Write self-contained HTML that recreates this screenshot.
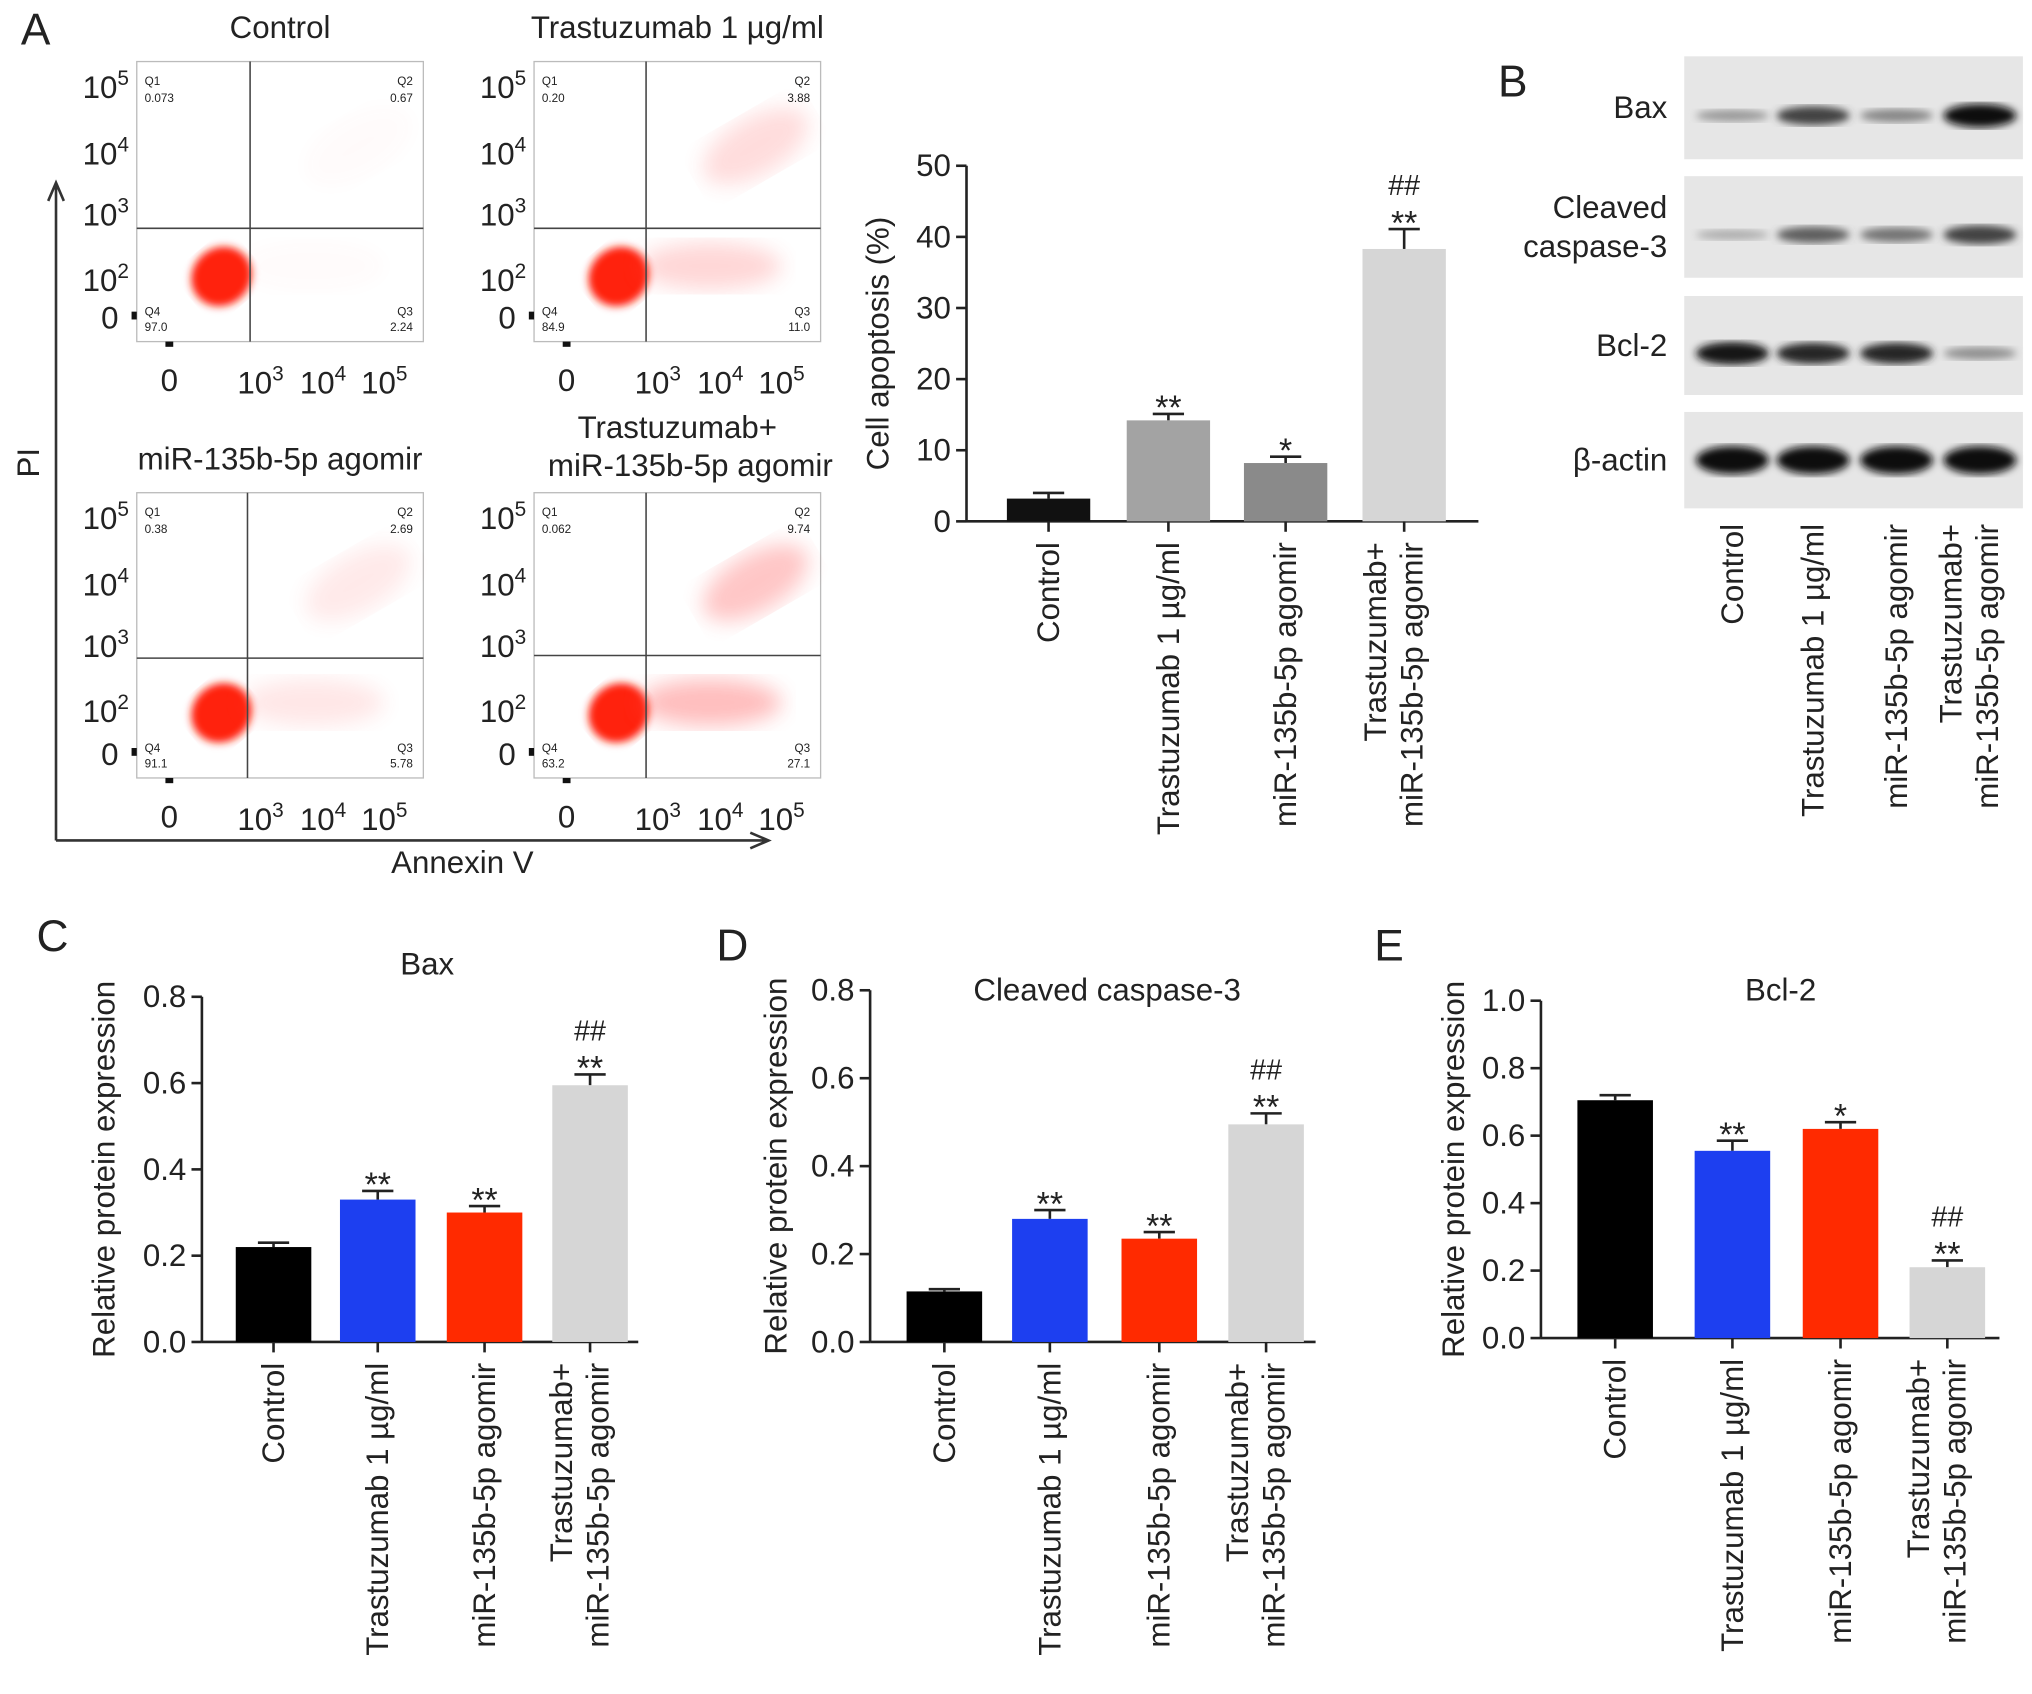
<!DOCTYPE html>
<html><head><meta charset="utf-8"><style>
html,body{margin:0;padding:0;background:#fff}
svg{display:block}
text{font-family:"Liberation Sans",sans-serif;fill:#222}
</style></head><body>
<svg id="fig" xmlns="http://www.w3.org/2000/svg" width="2032" height="1694" viewBox="0 0 1560 1300">
<defs>
<filter id="blur2"><feGaussianBlur stdDeviation="3"/></filter>
<filter id="blur6"><feGaussianBlur stdDeviation="8"/></filter>
</defs>
<text x="16" y="34" font-size="34">A</text>
<text x="1150" y="74" font-size="34">B</text>
<text x="28" y="730" font-size="34">C</text>
<text x="550" y="737" font-size="34">D</text>
<text x="1055" y="737" font-size="34">E</text>
<g id="flow"></g>
<g id="apop"></g>
<g id="blot"></g>
<g id="cbar"></g>
<g id="dbar"></g>
<g id="ebar"></g>
</svg>
<script>
const groups = ["Control","Trastuzumab 1 µg/ml","miR-135b-5p agomir","Trastuzumab+|miR-135b-5p agomir"];
const apopValues = [3.2, 14.2, 8.2, 38.3];
const apopErrors = [0.8, 0.9, 0.9, 2.8];
const apopSig = ["", "**", "*", "##|**"];
const apopTicks = [0,10,20,30,40,50];
const baxValues = [0.22, 0.33, 0.30, 0.595];
const baxErrors = [0.01, 0.02, 0.015, 0.025];
const baxSig = ["", "**", "**", "##|**"];
const casValues = [0.115, 0.28, 0.235, 0.495];
const casErrors = [0.005, 0.02, 0.015, 0.025];
const casSig = ["", "**", "**", "##|**"];
const bclValues = [0.705, 0.555, 0.62, 0.21];
const bclErrors = [0.015, 0.03, 0.02, 0.02];
const bclSig = ["", "**", "*", "##|**"];
const protTicks08 = [0,0.2,0.4,0.6,0.8];
const protTicks10 = [0,0.2,0.4,0.6,0.8,1.0];
const flowTitles = ["Control","Trastuzumab 1 µg/ml","miR-135b-5p agomir","Trastuzumab+|miR-135b-5p agomir"];
const q1Vals = ["0.073","0.20","0.38","0.062"];
const q2Vals = ["0.67","3.88","2.69","9.74"];
const q3Vals = ["2.24","11.0","5.78","27.1"];
const q4Vals = ["97.0","84.9","91.1","63.2"];
const tailStrength = [0.03, 0.3, 0.18, 0.5];
const blotNames = ["Bax","Cleaved|caspase-3","Bcl-2","β-actin"];
const baxBands = [0.25, 0.7, 0.35, 1.0];
const casBands = [0.15, 0.55, 0.45, 0.7];
const bclBands = [0.95, 0.85, 0.85, 0.3];
const actBands = [1.0, 1.0, 1.0, 1.0];

const NS="http://www.w3.org/2000/svg";
function el(parent, tag, attrs, txt){const e=document.createElementNS(NS,tag);for(const k in attrs)e.setAttribute(k,attrs[k]);if(txt!==undefined)e.textContent=txt;parent.appendChild(e);return e;}

const flow=document.getElementById('flow');
const boxes=[[105,47,325,262,192,175],[410,47,630,262,496,175],[105,378,325,597,190,505],[410,378,630,597,496,503]];
boxes.forEach((b,i)=>{
  const [x0,y0,x1,y1,vx,hy]=b;
  const g=el(flow,'g',{});
  
  
  el(g,'rect',{x:x0,y:y0,width:x1-x0,height:y1-y0,fill:'#fff',stroke:'#bbb','stroke-width':1});
  const cx=x0+65, cy=y1-50;
  el(g,'ellipse',{cx:cx,cy:cy,rx:24,ry:22,fill:'#f21',filter:'url(#blur2)',transform:`rotate(-40 ${cx} ${cy})`});
  const t=tailStrength[i];
  el(g,'ellipse',{cx:cx+70,cy:cy-8,rx:55,ry:18,fill:'#f44',opacity:t*0.7,filter:'url(#blur6)'});
  el(g,'ellipse',{cx:cx+105,cy:cy-100,rx:45,ry:22,fill:'#f44',opacity:t*0.6,filter:'url(#blur6)',transform:`rotate(-30 ${cx+105} ${cy-100})`});
  el(g,'line',{x1:vx,y1:y0,x2:vx,y2:y1,stroke:'#444','stroke-width':1.2});
  el(g,'line',{x1:x0,y1:hy,x2:x1,y2:hy,stroke:'#444','stroke-width':1.2});
  el(g,'text',{x:x0+6,y:y0+18,'font-size':9},'Q1');
  el(g,'text',{x:x0+6,y:y0+31,'font-size':9},q1Vals[i]);
  el(g,'text',{x:x1-8,y:y0+18,'font-size':9,'text-anchor':'end'},'Q2');
  el(g,'text',{x:x1-8,y:y0+31,'font-size':9,'text-anchor':'end'},q2Vals[i]);
  el(g,'text',{x:x0+6,y:y1-20,'font-size':9},'Q4');
  el(g,'text',{x:x0+6,y:y1-8,'font-size':9},q4Vals[i]);
  el(g,'text',{x:x1-8,y:y1-20,'font-size':9,'text-anchor':'end'},'Q3');
  el(g,'text',{x:x1-8,y:y1-8,'font-size':9,'text-anchor':'end'},q3Vals[i]);
  const h=y1-y0;
  [[20,'5'],[71,'4'],[118,'3'],[168,'2']].forEach(([dy,e])=>{
    const tt=el(g,'text',{x:x0-6,y:y0+dy+8,'font-size':24,'text-anchor':'end'});
    tt.textContent='10';el(tt,'tspan',{dy:-10,'font-size':16},e);
  });
  el(g,'text',{x:x0-14,y:y0+h-10,'font-size':24,'text-anchor':'end'},'0');
  el(g,'rect',{x:x0-4,y:y0+h-23,width:4,height:6,fill:'#111'});
  el(g,'rect',{x:x0+22,y:y1,width:6,height:4,fill:'#111'});
  el(g,'text',{x:x0+25,y:y1+38,'font-size':24,'text-anchor':'middle'},'0');
  [[105,'3'],[153,'4'],[200,'5']].forEach(([dx,e])=>{
    const tt=el(g,'text',{x:x0+dx-10,y:y1+40,'font-size':24,'text-anchor':'middle'});
    tt.textContent='10';el(tt,'tspan',{dy:-10,'font-size':16},e);
  });
  const parts=flowTitles[i].split('|');
  const tg=el(g,'text',{x:(x0+x1)/2,y:parts.length>1?y0-42:y0-18,'font-size':24,'text-anchor':'middle'});
  
  
  parts.forEach((p,k)=>el(tg,'tspan',{x:(x0+x1)/2+(k?10:0),dy:k?29:0},p));
});
el(flow,'path',{d:'M43,645 L43,142 M37,154 L43,140 L49,154 M43,645 L588,645 M576,639 L590,645 L576,651',stroke:'#333','stroke-width':2,fill:'none'});
const pi=el(flow,'text',{x:0,y:0,'font-size':24,'text-anchor':'middle',transform:'translate(30,355) rotate(-90)'},'PI');

const an=el(flow,'text',{x:355,y:670,'font-size':24,'text-anchor':'middle'},'Annexin V');


function barChart(gid,o){
  const g=document.getElementById(gid);
  const ymax=o.ticks[o.ticks.length-1];
  const Y=v=>o.y0-(v/ymax)*(o.y0-o.yTop);
  const X=i=>o.xs[i];
  if(o.title){const t=el(g,'text',{x:o.titleX,y:o.titleY,'font-size':24,'text-anchor':'middle'},o.title);
    }
  const yt=el(g,'text',{x:0,y:0,'font-size':24,'text-anchor':'middle',transform:`translate(${o.ytX},${(o.y0+o.yTop)/2}) rotate(-90)`},o.ytitle);
  
  el(g,'line',{x1:o.ax,y1:o.yTop,x2:o.ax,y2:o.y0,stroke:'#222','stroke-width':2});
  el(g,'line',{x1:o.ax,y1:o.y0,x2:o.axEnd,y2:o.y0,stroke:'#222','stroke-width':2});
  o.ticks.forEach(t=>{
    el(g,'line',{x1:o.ax-8,y1:Y(t),x2:o.ax,y2:Y(t),stroke:'#222','stroke-width':2});
    const tl=el(g,'text',{x:o.ax-12,y:Y(t)+8,'font-size':24,'text-anchor':'end'},o.fmt(t));
    
  });
  o.values.forEach((v,i)=>{
    const top=Y(v), e=Y(v+o.errors[i]);
    el(g,'line',{x1:X(i),y1:e,x2:X(i),y2:top,stroke:'#222','stroke-width':2});
    el(g,'line',{x1:X(i)-12,y1:e,x2:X(i)+12,y2:e,stroke:'#222','stroke-width':2});
    const r=el(g,'rect',{x:X(i)-o.bw/2,y:top,width:o.bw,height:o.y0-top,fill:o.colors[i]});
    
    
    el(g,'line',{x1:X(i),y1:o.y0,x2:X(i),y2:o.y0+8,stroke:'#222','stroke-width':2});
    const sig=o.sig[i].split('|');
    sig.forEach((s,k)=>{
      const st=el(g,'text',{x:X(i),y:e-6-(sig.length-1-k)*20+(s.indexOf('*')>=0?10:0),'font-size':s.indexOf('*')>=0?26:22,'text-anchor':'middle'},s);
      
    });
    const parts=groups[i].split('|');
    parts.forEach((p,k)=>{
      const xx=X(i)+(parts.length>1?(k?14:-14):8);
      const lt=el(g,'text',{x:0,y:0,'font-size':24,'text-anchor':'end',transform:`translate(${xx},${o.y0+16}) rotate(-90)`},p);
      
    });
  });
}
const grayCols=['#111','#a3a3a3','#8a8a8a','#d6d6d6'];
const colCols=['#000','#1d3ff0','#ff2a00','#d6d6d6'];
const f1=t=>String(t), f2=t=>t.toFixed(1);
barChart('apop',{values:apopValues,errors:apopErrors,sig:apopSig,ticks:apopTicks,fmt:f1,y0:400,yTop:127,ax:742,axEnd:1135,xs:[805,897,987,1078],bw:64,colors:grayCols,ytitle:'Cell apoptosis (%)',ytX:682});
barChart('cbar',{values:baxValues,errors:baxErrors,sig:baxSig,ticks:protTicks08,fmt:f2,y0:1030,yTop:765,ax:155,axEnd:490,xs:[210,290,372,453],bw:58,colors:colCols,ytitle:'Relative protein expression',ytX:88,title:'Bax',titleX:328,titleY:748});
barChart('dbar',{values:casValues,errors:casErrors,sig:casSig,ticks:protTicks08,fmt:f2,y0:1030,yTop:760,ax:668,axEnd:1010,xs:[725,806,890,972],bw:58,colors:colCols,ytitle:'Relative protein expression',ytX:604,title:'Cleaved caspase-3',titleX:850,titleY:768});
barChart('ebar',{values:bclValues,errors:bclErrors,sig:bclSig,ticks:protTicks10,fmt:f2,y0:1027,yTop:768,ax:1183,axEnd:1535,xs:[1240,1330,1413,1495],bw:58,colors:colCols,ytitle:'Relative protein expression',ytX:1124,title:'Bcl-2',titleX:1367,titleY:768});

const blot=document.getElementById('blot');
const strips=[[43,122,baxBands],[135,213,casBands],[227,303,bclBands],[316,390,actBands]];
const lanes=[1330,1392,1456,1520];
strips.forEach((s,i)=>{
  const [a,b,bands]=s;
  const g=el(blot,'g',{});
  
  
  el(g,'rect',{x:1293,y:a,width:260,height:b-a,fill:'#e6e6e6'});
  const mid=(a+b)/2+(i==3?0:6);
  bands.forEach((v,k)=>{
    const shade=Math.round(200-190*v);
    el(g,'ellipse',{cx:lanes[k],cy:mid,rx:28,ry:3+6*v*(i==3?1.3:1),fill:`rgb(${shade},${shade},${shade})`,filter:'url(#blur2)'});
  });
  const parts=blotNames[i].split('|');
  const c=(a+b)/2+8-(parts.length-1)*15;
  parts.forEach((p,k)=>{
    const t=el(blot,'text',{x:1280,y:c+k*30,'font-size':24,'text-anchor':'end'},p);
    
  });
});
groups.forEach((gname,i)=>{
  const parts=gname.split('|');
  parts.forEach((p,k)=>{
    const xx=lanes[i]+(parts.length>1?(k?14:-14):8);
    const t=el(blot,'text',{x:0,y:0,'font-size':24,'text-anchor':'end',transform:`translate(${xx},402) rotate(-90)`},p);
    
  });
});
</script>
</body></html>
